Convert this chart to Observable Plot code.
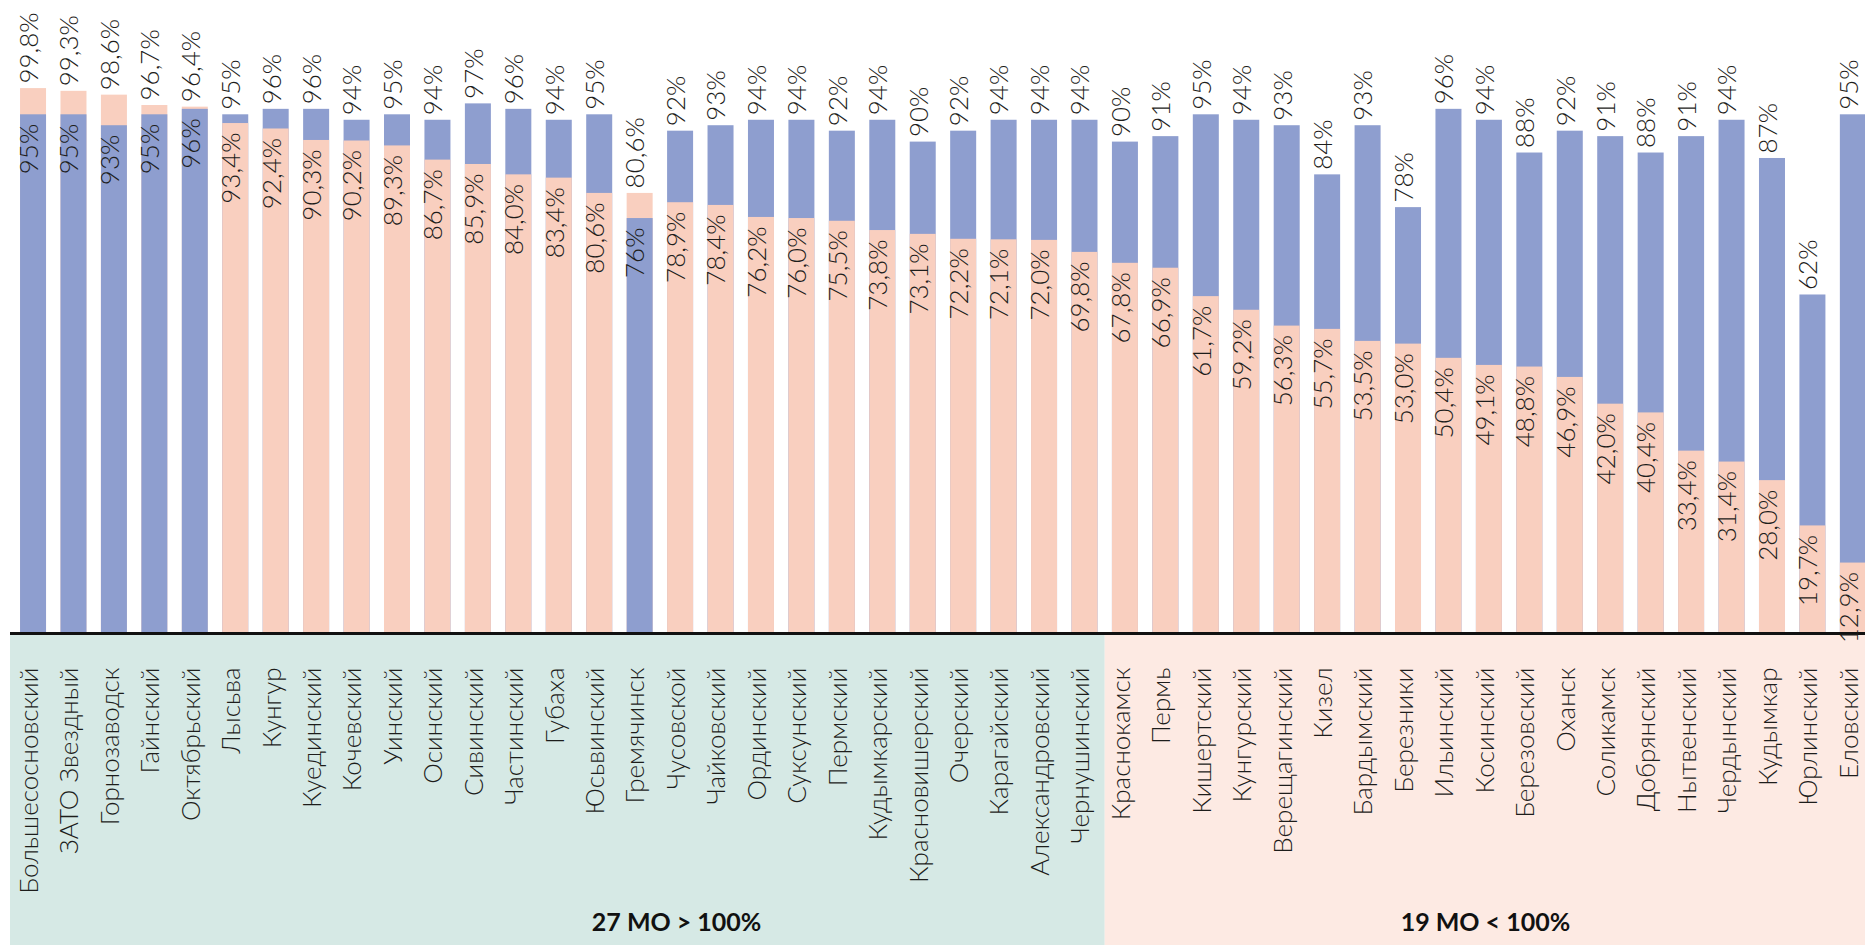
<!DOCTYPE html>
<html>
<head>
<meta charset="utf-8">
<script src="https://cdn.jsdelivr.net/npm/d3@7"></script>
<script src="https://cdn.jsdelivr.net/npm/@observablehq/plot@0.6"></script>
<style>
  html, body { margin: 0; padding: 0; background: #ffffff; overflow: hidden; }
  #chart svg { display: block; }
</style>
</head>
<body>
<div id="chart"></div>
<script>
// ---- data ----
const categories = [
  "Большесосновский", "ЗАТО Звездный", "Горнозаводск", "Гайнский", "Октябрьский",
  "Лысьва", "Кунгур", "Куединский", "Кочевский", "Уинский", "Осинский", "Сивинский",
  "Частинский", "Губаха", "Юсьвинский", "Гремячинск", "Чусовской", "Чайковский",
  "Ординский", "Суксунский", "Пермский", "Кудымкарский", "Красновишерский", "Очерский",
  "Карагайский", "Александровский", "Чернушинский",
  "Краснокамск", "Пермь", "Кишертский", "Кунгурский", "Верещагинский", "Кизел",
  "Бардымский", "Березники", "Ильинский", "Косинский", "Березовский", "Оханск",
  "Соликамск", "Добрянский", "Нытвенский", "Чердынский", "Кудымкар", "Юрлинский", "Еловский"
];
const pinkValues = [
  99.8, 99.3, 98.6, 96.7, 96.4,
  93.4, 92.4, 90.3, 90.2, 89.3, 86.7, 85.9,
  84.0, 83.4, 80.6, 80.6, 78.9, 78.4,
  76.2, 76.0, 75.5, 73.8, 73.1, 72.2,
  72.1, 72.0, 69.8,
  67.8, 66.9, 61.7, 59.2, 56.3, 55.7,
  53.5, 53.0, 50.4, 49.1, 48.8, 46.9,
  42.0, 40.4, 33.4, 31.4, 28.0, 19.7, 12.9
];
const blueValues = [
  95, 95, 93, 95, 96,
  95, 96, 96, 94, 95, 94, 97,
  96, 94, 95, 76, 92, 93,
  94, 94, 92, 94, 90, 92,
  94, 94, 94,
  90, 91, 95, 94, 93, 84,
  93, 78, 96, 94, 88, 92,
  91, 88, 91, 94, 87, 62, 95
];
const groupLabels = ["27 МО > 100%", "19 МО < 100%"];
const groupSizes = [27, 19];
const groupLabelAnchors = ["Чусовской", "Косинский"];

// ---- styles ----
const PINK = "#f9cfbf";
const BLUE = "#8e9ecf";
const BG = ["#d6e9e5", "#fdeae3"];
const INK = "#1d1d1b";
const FONT = "Lato, 'Open Sans', sans-serif";
const X_RANGE = [5.6, 1880.3];
const X_PADDING = 0.357;

const rows = categories.map((name, i) => ({ name, pink: pinkValues[i], blue: blueValues[i] }));
const fmtPink = v => v.toFixed(1).replace(".", ",") + "%";
const fmtBlue = v => v + "%";
const groups = groupLabels.map((label, i) => ({ label, at: groupLabelAnchors[i] }));

function backgrounds(index, scales, values, dims) {
  const xs = d3.scaleBand().domain(categories).range(X_RANGE).padding(X_PADDING);
  const g = d3.create("svg:g");
  let start = dims.marginLeft;
  let k = 0;
  groupSizes.forEach((n, gi) => {
    const last = categories[k + n - 1];
    const next = categories[k + n];
    const end = next ? (xs(last) + xs.bandwidth() + xs(next)) / 2 : dims.width;
    g.append("rect")
      .attr("x", start)
      .attr("y", dims.height - dims.marginBottom + 1)
      .attr("width", end - start)
      .attr("height", dims.marginBottom)
      .attr("fill", BG[gi]);
    start = end;
    k += n;
  });
  return g.node();
}

const textCommon = { rotate: -90, fontSize: 26, fontWeight: 300, fill: INK, fontFamily: FONT };

const chart = Plot.plot({
  width: 1865,
  height: 945,
  marginTop: 87,
  marginBottom: 312,
  marginLeft: 10,
  marginRight: 0,
  style: { fontFamily: FONT, background: "#ffffff" },
  x: { domain: categories, range: X_RANGE, padding: X_PADDING, round: false, axis: null },
  y: { domain: [0, 100], axis: null },
  marks: [
    backgrounds,
    // back (taller) bars
    Plot.barY(rows, { x: "name", y: "pink", fill: PINK, filter: d => d.pink >= d.blue }),
    Plot.barY(rows, { x: "name", y: "blue", fill: BLUE, filter: d => d.blue > d.pink }),
    // front (shorter) bars
    Plot.barY(rows, { x: "name", y: "pink", fill: PINK, filter: d => d.pink < d.blue }),
    Plot.barY(rows, { x: "name", y: "blue", fill: BLUE, filter: d => d.blue <= d.pink }),
    Plot.ruleY([0], { stroke: "#111111", strokeWidth: 3 }),
    // value above taller bar
    Plot.text(rows, {
      x: "name",
      y: d => Math.max(d.pink, d.blue),
      text: d => d.pink >= d.blue ? fmtPink(d.pink) : fmtBlue(d.blue),
      textAnchor: "start", dy: -5, dx: -4, ...textCommon
    }),
    // value inside shorter bar
    Plot.text(rows, {
      x: "name",
      y: d => Math.min(d.pink, d.blue),
      text: d => d.pink >= d.blue ? fmtBlue(d.blue) : fmtPink(d.pink),
      textAnchor: "end", dy: 9, dx: -4, ...textCommon
    }),
    // category labels
    Plot.text(rows, {
      x: "name", y: () => 0, text: "name",
      textAnchor: "end", dy: 34, dx: -4, ...textCommon
    }),
    // group labels
    Plot.text(groups, {
      x: "at", y: () => 0, text: "label",
      textAnchor: "middle", dy: 289, dx: -4,
      fontSize: 25, fontWeight: 700, fill: "#111111", fontFamily: FONT
    })
  ]
});

document.getElementById("chart").appendChild(chart);
</script>
</body>
</html>
